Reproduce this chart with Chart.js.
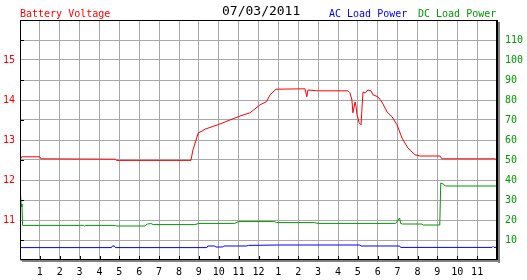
<!DOCTYPE html>
<html>
<head>
<meta charset="utf-8">
<script src="https://cdn.jsdelivr.net/npm/chart.js@4/dist/chart.umd.min.js"></script>
<style>
  html, body { margin: 0; padding: 0; background: #fff; }
  #wrap { position: relative; width: 527px; height: 280px; }
  #wrap span { position: absolute; font-family: "DejaVu Sans Mono", monospace; white-space: pre; }
  .lbl { font-size: 10px; line-height: 12px; top: 8px; }
  #title { font-size: 13px; line-height: 15px; top: 3px; left: 222px; color: #000; }
</style>
</head>
<body>
<div id="wrap">
  <canvas id="powerChart" width="527" height="280"></canvas>
  <span class="lbl" style="left:20px;color:#ff0000">Battery Voltage</span>
  <span id="title">07/03/2011</span>
  <span class="lbl" style="left:329px;color:#0000ff">AC Load Power</span>
  <span class="lbl" style="left:418px;color:#009900">DC Load Power</span>
</div>
<script>
// hours since midnight
const voltHours = [0, 0.08, 1.0, 1.05, 4.8, 4.85, 8.6, 8.7, 8.86, 8.97, 9.15, 9.31, 10.06, 11.07, 11.57, 12.08, 12.41, 12.58, 12.88, 14.34, 14.43, 14.49, 14.93, 16.5, 16.6, 16.7, 16.75, 16.86, 16.91, 16.96, 17.06, 17.16, 17.21, 17.26, 17.36, 17.51, 17.66, 17.76, 18.01, 18.21, 18.47, 18.72, 18.97, 19.22, 19.52, 19.87, 20.13, 21.13, 21.23, 23.9, 24];
const voltValues = [12.5, 12.58, 12.58, 12.53, 12.52, 12.49, 12.49, 12.75, 13.0, 13.18, 13.22, 13.27, 13.4, 13.6, 13.68, 13.88, 13.96, 14.13, 14.27, 14.28, 14.08, 14.25, 14.23, 14.23, 14.18, 14.0, 13.68, 13.95, 13.83, 13.63, 13.43, 13.38, 13.83, 14.2, 14.18, 14.25, 14.23, 14.13, 14.08, 13.95, 13.7, 13.58, 13.38, 13.05, 12.8, 12.63, 12.6, 12.6, 12.53, 12.53, 12.5];

const acHours = [0, 4.6, 4.65, 4.75, 4.8, 9.4, 9.45, 9.8, 9.85, 10.2, 10.25, 11.4, 11.5, 13.0, 17.1, 17.15, 19.1, 19.15, 23.75, 23.8, 23.85, 24];
const acValues = [6.2, 6.2, 7, 7, 6.2, 6.2, 7, 7, 6.5, 6.5, 7, 7, 7.3, 7.5, 7.5, 7, 7, 6.3, 6.3, 6.8, 6.3, 6.3];

const dcHours = [0, 0.06, 0.1, 0.13, 3.2, 3.25, 3.3, 4.8, 4.85, 6.3, 6.4, 6.6, 6.7, 8.8, 9.0, 10.8, 11.0, 12.8, 12.9, 14.8, 15.0, 18.9, 19.1, 19.15, 19.25, 20.2, 20.3, 21.12, 21.17, 21.3, 21.4, 24];
const dcValues = [36, 28, 26.5, 17.3, 17.3, 17, 17.3, 17.3, 17, 17, 18, 18.2, 17.7, 17.7, 18.3, 18.3, 19.2, 19.2, 18.7, 18.7, 18.3, 18.3, 21, 18.3, 18, 18, 17.5, 17.5, 38.5, 38, 37, 37];

// x labels: 12 hour clock, 0 and 24 left blank
const hourLabel = (h) => (h <= 0 || h >= 24 ? '' : String(h <= 12 ? h : h - 12));

const toPoints = (xs, ys) => xs.map((x, i) => ({ x: x, y: ys[i] }));

const gridColor = '#a8a8a8';
const tickFont = { family: 'DejaVu Sans Mono', size: 10 };

// black frame, drop shadow and the small inner tick marks
const framePlugin = {
  id: 'frame',
  afterDraw(chart) {
    const { ctx, chartArea: a, scales } = chart;
    ctx.save();
    ctx.fillStyle = '#000';
    scales.x.ticks.forEach((t) => {
      const px = Math.round(scales.x.getPixelForValue(t.value));
      ctx.fillRect(px, a.bottom - 4, 1, 4);
    });
    scales.y.ticks.forEach((t) => {
      if (!Number.isInteger(t.value)) {
        const py = Math.round(scales.y.getPixelForValue(t.value));
        ctx.fillRect(a.left, py, 4, 1);
      }
    });
    ctx.fillRect(a.left, a.top, a.right - a.left, 1);
    ctx.fillRect(a.left, a.top, 1, a.bottom - a.top);
    ctx.fillRect(a.right - 1, a.top, 2, a.bottom - a.top + 1);
    ctx.fillRect(a.left, a.bottom - 1, a.right - a.left + 1, 1);
    ctx.fillStyle = '#808080';
    ctx.fillRect(a.right + 1, a.top + 2, 2, a.bottom - a.top + 1);
    ctx.fillRect(a.left + 2, a.bottom, a.right - a.left, 2);
    ctx.restore();
  },
};

const ctx = document.getElementById('powerChart').getContext('2d');
new Chart(ctx, {
  type: 'line',
  data: {
    datasets: [
      {
        label: 'AC Load Power',
        data: toPoints(acHours, acValues),
        yAxisID: 'y1',
        borderColor: '#0000ff',
        borderWidth: 1,
        pointRadius: 0,
        tension: 0,
      },
      {
        label: 'DC Load Power',
        data: toPoints(dcHours, dcValues),
        yAxisID: 'y1',
        borderColor: '#009900',
        borderWidth: 1,
        pointRadius: 0,
        tension: 0,
      },
      {
        label: 'Battery Voltage',
        data: toPoints(voltHours, voltValues),
        yAxisID: 'y',
        borderColor: '#ff0000',
        borderWidth: 1,
        pointRadius: 0,
        tension: 0,
      },
    ],
  },
  options: {
    responsive: false,
    animation: false,
    maintainAspectRatio: false,
    layout: { padding: { top: 20, left: 0, right: 0, bottom: 0 } },
    plugins: { legend: { display: false }, tooltip: { enabled: false } },
    scales: {
      x: {
        type: 'linear',
        min: 0,
        max: 24,
        ticks: { stepSize: 1, autoSkip: false, maxRotation: 0, color: '#000', font: tickFont, padding: 6, callback: hourLabel },
        grid: { color: gridColor, drawTicks: false },
        border: { display: false },
        afterFit(scale) { scale.height = 20; },
      },
      y: {
        position: 'left',
        min: 10,
        max: 16,
        ticks: {
          stepSize: 0.5,
          color: '#ff0000',
          font: tickFont,
          padding: 5,
          callback: (v) => (Number.isInteger(v) && v > 10 && v < 16 ? String(v) : ''),
        },
        grid: { color: gridColor, drawTicks: false },
        border: { display: false },
        afterFit(scale) { scale.width = 20; },
      },
      y1: {
        position: 'right',
        min: 0,
        max: 120,
        ticks: {
          stepSize: 10,
          color: '#009900',
          font: tickFont,
          padding: 8,
          callback: (v) => (v > 0 && v < 120 ? String(v) : ''),
        },
        grid: { display: false, drawTicks: false },
        border: { display: false },
        afterFit(scale) { scale.width = 30; },
      },
    },
  },
  plugins: [framePlugin],
});
</script>
</body>
</html>
